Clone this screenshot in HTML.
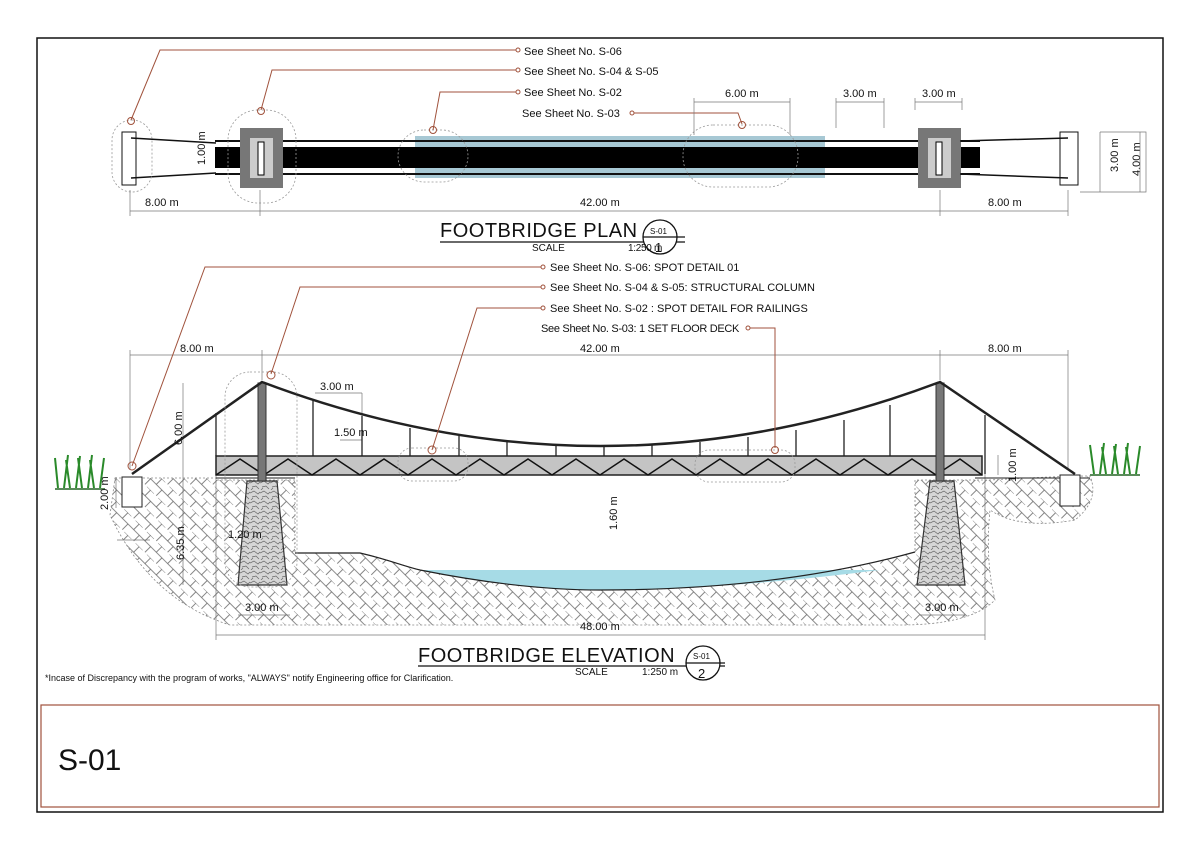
<!DOCTYPE html>
<html><head><meta charset="utf-8"><style>
html,body{margin:0;padding:0;background:#fff}
svg{display:block}
text{font-family:"Liberation Sans",sans-serif;fill:#111}
</style></head><body>
<svg width="1200" height="848" viewBox="0 0 1200 848" xmlns="http://www.w3.org/2000/svg">
<defs>
<pattern id="hatch" width="16" height="16" patternUnits="userSpaceOnUse" patternTransform="rotate(45)">
<path d="M0 0H10M5 0V8M0 8H16M13 8V16" stroke="#666" stroke-width="0.8" fill="none"/>
</pattern>
<pattern id="stone" width="10" height="10" patternUnits="userSpaceOnUse">
<rect width="10" height="10" fill="#d6d6d6"/>
<path d="M0 3L4 1L8 4L10 2M2 7L6 6L9 9M1 10L3 8" stroke="#666" stroke-width="0.7" fill="none"/>
</pattern>
</defs>
<rect x="37" y="38" width="1126" height="774" fill="none" stroke="#111" stroke-width="1.5"/>
<rect x="41" y="705" width="1118" height="102" fill="none" stroke="#a0523c" stroke-width="1.2"/>
<text x="58" y="770" font-size="30">S-01</text>

<!-- PLAN -->
<g stroke="#111" fill="none">
<rect x="122" y="132" width="14" height="53" stroke-width="1"/>
<path d="M131 138L216 143M131 178L216 173" stroke-width="1.5"/>
</g>
<rect x="415" y="136" width="410" height="42" fill="#5f9bb0" opacity="0.55"/>
<rect x="215" y="147" width="765" height="21" fill="#000"/>
<path d="M215 141H980M215 174H980" stroke="#111" stroke-width="2"/>
<rect x="240" y="128" width="43" height="60" fill="#777"/>
<rect x="250" y="138" width="23" height="40" fill="#ccc"/>
<rect x="258" y="142" width="6" height="33" fill="#fff" stroke="#000"/>
<rect x="918" y="128" width="43" height="60" fill="#777"/>
<rect x="928" y="138" width="23" height="40" fill="#ccc"/>
<rect x="936" y="142" width="6" height="33" fill="#fff" stroke="#000"/>
<path d="M960 141L1068 138M960 174L1068 178" stroke="#111" stroke-width="1.5"/>
<rect x="1060" y="132" width="18" height="53" fill="none" stroke="#111"/>
<g fill="none" stroke="#999" stroke-dasharray="2,2" stroke-width="0.8">
<rect x="112" y="120" width="40" height="72" rx="20"/>
<rect x="228" y="110" width="68" height="93" rx="30"/>
<rect x="398" y="130" width="70" height="52" rx="26"/>
<rect x="683" y="125" width="115" height="62" rx="30"/>
</g>
<g stroke="#a0523c" fill="none" stroke-width="1">
<path d="M131 120L160 50H516"/><circle cx="131" cy="121" r="3.5"/><circle cx="518" cy="50" r="2"/>
<path d="M261 110L272 70H516"/><circle cx="261" cy="111" r="3.5"/><circle cx="518" cy="70" r="2"/>
<path d="M433 130L440 92H516"/><circle cx="433" cy="130" r="3.5"/><circle cx="518" cy="92" r="2"/>
<path d="M634 113H738L742 124"/><circle cx="742" cy="125" r="3.5"/><circle cx="632" cy="113" r="2"/>
</g>
<g font-size="11">
<text x="524" y="55">See Sheet No. S-06</text>
<text x="524" y="75">See Sheet No. S-04  &amp; S-05</text>
<text x="524" y="96">See Sheet No. S-02</text>
<text x="522" y="117">See Sheet No. S-03</text>
<text x="725" y="97">6.00 m</text>
<text x="843" y="97">3.00 m</text>
<text x="922" y="97">3.00 m</text>
<text x="145" y="206">8.00 m</text>
<text x="580" y="206">42.00 m</text>
<text x="988" y="206">8.00 m</text>
<text transform="translate(1118,172) rotate(-90)">3.00 m</text>
<text transform="translate(1140,176) rotate(-90)">4.00 m</text>
<text transform="translate(205,165) rotate(-90)">1.00 m</text>
</g>
<g stroke="#777" stroke-width="0.7" fill="none">
<path d="M130 211H1068M130 190V216M260 190V216M940 190V216M1068 190V216"/>
<path d="M694 102H790M694 98V135M790 98V135M836 102H884M836 98V128M884 98V128M915 102H962M915 98V110M962 98V110"/>
<path d="M1100 132H1146V192H1080M1140 132V192M1100 132V192"/>
</g>
<text x="440" y="237" font-size="20" letter-spacing="0.5">FOOTBRIDGE PLAN</text>
<path d="M440 242H685" stroke="#111" stroke-width="1.2"/>
<circle cx="660" cy="237" r="17" fill="#fff" stroke="#111" stroke-width="1.3"/>
<path d="M643 237H685" stroke="#111" stroke-width="1.2"/>
<text x="650" y="234" font-size="8">S-01</text>
<text x="655" y="252" font-size="13">1</text>
<text x="532" y="251" font-size="10">SCALE</text>
<text x="628" y="251" font-size="10" letter-spacing="-0.3">1:250 m</text>

<!-- ELEVATION -->
<g stroke="#777" stroke-width="0.7" fill="none">
<path d="M130 355H1068M130 350V470M262 350V380M940 350V380M1068 350V470"/>
<path d="M183 383V585M216 450V640M216 635H985M985 470V640"/>
<path d="M315 393H362M362 393V450M340 440H362M998 455V475M116 477V508M117 540H150M238 615H290M920 615H965"/>
</g>
<!-- ground -->
<path d="M115 478H216V480H295V553H360C390 560 400 565 420 570C480 582 540 590 600 590C750 590 850 570 915 552V480H990Q1060 476 1090 476Q1100 500 1075 520Q1020 530 990 510Q985 560 995 600Q970 625 900 625H230Q150 600 110 515Z" fill="url(#hatch)" stroke="#888" stroke-width="0.8" stroke-dasharray="2,2"/>
<path d="M420 570H880C800 580 700 590 600 590C540 590 480 582 420 570Z" fill="#a6dbe6"/>
<path d="M295 553H360C390 560 400 565 420 570C480 582 540 590 600 590C750 590 850 570 915 552" fill="none" stroke="#222" stroke-width="1.2"/>
<path d="M216 478H295M975 478H1090" stroke="#222" stroke-width="1"/>
<!-- piers -->
<polygon points="247,481 277,481 287,585 238,585" fill="url(#stone)" stroke="#333" stroke-width="1.2"/>
<polygon points="930,481 954,481 965,585 917,585" fill="url(#stone)" stroke="#333" stroke-width="1.2"/>
<rect x="122" y="477" width="20" height="30" fill="#fff" stroke="#222"/>
<rect x="1060" y="475" width="20" height="31" fill="#fff" stroke="#222"/>
<!-- grass -->
<g stroke="#2a8a2a" stroke-width="2" fill="none">
<path d="M58 488L55 458M64 488L68 455M70 488L66 460M76 488L80 456M82 488L78 458M88 488L92 455M94 488L90 460M100 488L104 458"/>
<path d="M1094 474L1090 445M1100 474L1104 443M1106 474L1102 447M1112 474L1116 444M1118 474L1114 446M1124 474L1128 443M1130 474L1126 447M1136 474L1140 446"/>
</g>
<path d="M55 489H105M1090 475H1140" stroke="#5a8a5a" stroke-width="2"/>
<!-- deck truss -->
<rect x="216" y="456" width="766" height="19" fill="#c4c4c4" stroke="#222" stroke-width="1.5"/>
<path d="M216 475 L240 459 L264 475 L288 459 L312 475 L336 459 L360 475 L384 459 L408 475 L432 459 L456 475 L480 459 L504 475 L528 459 L552 475 L576 459 L600 475 L624 459 L648 475 L672 459 L696 475 L720 459 L744 475 L768 459 L792 475 L816 459 L840 475 L864 459 L888 475 L912 459 L936 475 L960 459 L982 475" fill="none" stroke="#111" stroke-width="1.5"/>
<!-- towers -->
<rect x="258" y="383" width="8" height="98" fill="#777" stroke="#333"/>
<rect x="936" y="383" width="8" height="98" fill="#777" stroke="#333"/>
<!-- cable -->
<path d="M132 474L262 382Q600 510 940 382L1075 474" fill="none" stroke="#222" stroke-width="2.5"/>
<g stroke="#222" stroke-width="1.3">
<path d="M216 413V456M313 400V456M362 416V456M410 428V456M459 436V456M507 441V456M556 445V456M604 446V456M652 445V456M700 442V456M748 437V456M796 430V456M844 420V456M890 405V456M985 415V474"/>
</g>
<g fill="none" stroke="#999" stroke-dasharray="2,2" stroke-width="0.8">
<rect x="225" y="372" width="72" height="215" rx="25"/>
<rect x="398" y="448" width="70" height="33" rx="14"/>
<rect x="695" y="450" width="100" height="32" rx="14"/>
</g>
<g stroke="#a0523c" fill="none" stroke-width="1">
<path d="M132 466L205 267H541"/><circle cx="132" cy="466" r="4"/><circle cx="543" cy="267" r="2"/>
<path d="M271 374L300 287H541"/><circle cx="271" cy="375" r="4"/><circle cx="543" cy="287" r="2"/>
<path d="M432 450L477 308H541"/><circle cx="432" cy="450" r="4"/><circle cx="543" cy="308" r="2"/>
<path d="M750 328H775V448"/><circle cx="775" cy="450" r="3.5"/><circle cx="748" cy="328" r="2"/>
</g>
<g font-size="11">
<text x="550" y="271">See Sheet No. S-06: SPOT DETAIL 01</text>
<text x="550" y="291">See Sheet No. S-04  &amp; S-05: STRUCTURAL COLUMN</text>
<text x="550" y="312">See Sheet No. S-02 : SPOT DETAIL FOR RAILINGS</text>
<text x="541" y="332" letter-spacing="-0.3">See Sheet No. S-03: 1 SET FLOOR DECK</text>
<text x="180" y="352">8.00 m</text>
<text x="580" y="352">42.00 m</text>
<text x="988" y="352">8.00 m</text>
<text x="320" y="390">3.00 m</text>
<text x="334" y="436">1.50 m</text>
<text x="228" y="538">1.20 m</text>
<text x="245" y="611">3.00 m</text>
<text x="925" y="611">3.00 m</text>
<text x="580" y="630">48.00 m</text>
<text transform="translate(182,445) rotate(-90)">6.00 m</text>
<text transform="translate(108,510) rotate(-90)">2.00 m</text>
<text transform="translate(184,560) rotate(-90)">6.35 m</text>
<text transform="translate(617,530) rotate(-90)">1.60 m</text>
<text transform="translate(1016,482) rotate(-90)">1.00 m</text>
</g>
<text x="418" y="662" font-size="20" letter-spacing="0.5">FOOTBRIDGE  ELEVATION</text>
<path d="M418 666H725" stroke="#111" stroke-width="1.2"/>
<circle cx="703" cy="663" r="17" fill="#fff" stroke="#111" stroke-width="1.3"/>
<path d="M686 663H725" stroke="#111" stroke-width="1.2"/>
<text x="693" y="659" font-size="8">S-01</text>
<text x="698" y="678" font-size="13">2</text>
<text x="575" y="675" font-size="10">SCALE</text>
<text x="642" y="675" font-size="10">1:250 m</text>
<text x="45" y="681" font-size="9">*Incase of Discrepancy with the program of works, "ALWAYS" notify Engineering office for Clarification.</text>
</svg>
</body></html>
